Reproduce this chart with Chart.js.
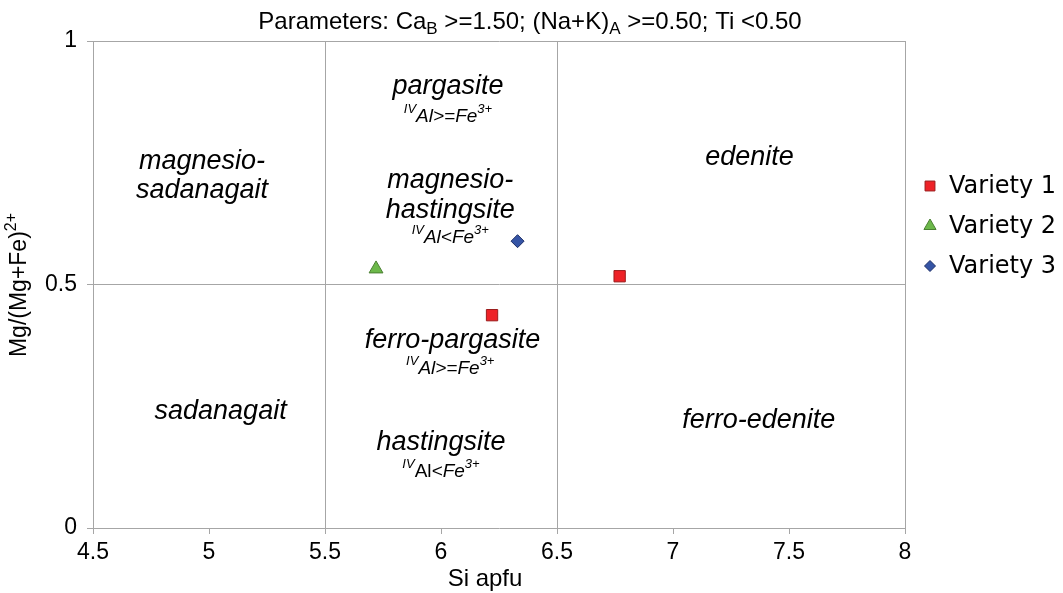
<!DOCTYPE html>
<html>
<head>
<meta charset="utf-8">
<script src="https://cdn.jsdelivr.net/npm/chart.js@4.4.1/dist/chart.umd.min.js"></script>
<style>
  html, body { margin: 0; padding: 0; background: #fff; }
  #wrap { width: 1063px; height: 593px; }
</style>
</head>
<body>
<div id="wrap"><canvas id="myChart" width="1063" height="593"></canvas></div>
<script>
// data
var seriesNames = ['Variety 1', 'Variety 2', 'Variety 3'];
var variety1X = [6.22, 6.77];
var variety1Y = [0.437, 0.517];
var variety2X = [5.72];
var variety2Y = [0.532];
var variety3X = [6.33];
var variety3Y = [0.589];
var xTicks = [4.5, 5, 5.5, 6, 6.5, 7, 7.5, 8];
var yTicks = [0, 0.5, 1];
var xDividers = [5.5, 6.5, 8];
var yDividers = [0.5, 1];

var gray = '#a6a6a6';
var fontName = '"Liberation Sans", Arial, sans-serif';

function pts(xs, ys) {
    return xs.map(function (x, i) { return { x: x, y: ys[i] }; });
}

// field names, placed in data units
var fields = [
    { x: 6.03, y: 0.906, lines: [[{ t: 'pargasite' }]] },
    { x: 6.03, y: 0.845, small: true, lines: [[{ t: 'IV', sup: true }, { t: 'Al>=Fe' }, { t: '3+', sup: true }]] },
    { x: 6.04, y: 0.713, lines: [[{ t: 'magnesio-' }]] },
    { x: 6.04, y: 0.653, lines: [[{ t: 'hastingsite' }]] },
    { x: 6.04, y: 0.596, small: true, lines: [[{ t: 'IV', sup: true }, { t: 'Al<Fe' }, { t: '3+', sup: true }]] },
    { x: 4.97, y: 0.752, lines: [[{ t: 'magnesio-' }]] },
    { x: 4.97, y: 0.694, lines: [[{ t: 'sadanagait' }]] },
    { x: 7.33, y: 0.760, lines: [[{ t: 'edenite' }]] },
    { x: 6.05, y: 0.386, lines: [[{ t: 'ferro-pargasite' }]] },
    { x: 6.04, y: 0.327, small: true, lines: [[{ t: 'IV', sup: true }, { t: 'Al>=Fe' }, { t: '3+', sup: true }]] },
    { x: 5.05, y: 0.240, lines: [[{ t: 'sadanagait' }]] },
    { x: 6.00, y: 0.175, lines: [[{ t: 'hastingsite' }]] },
    { x: 6.00, y: 0.115, small: true, lines: [[{ t: 'IV', sup: true }, { t: 'Al', up: true }, { t: '<Fe' }, { t: '3+', sup: true }]] },
    { x: 7.37, y: 0.220, lines: [[{ t: 'ferro-edenite' }]] }
];

function runFont(r, size, italic) {
    var s = (r.sup || r.sub) ? Math.round(size * 0.7) : size;
    var it = italic && !r.up ? 'italic ' : '';
    return it + s + 'px ' + fontName;
}

function runsWidth(ctx, runs, size, italic) {
    var w = 0;
    runs.forEach(function (r) {
        ctx.font = runFont(r, size, italic);
        w += ctx.measureText(r.t).width;
    });
    return w;
}

function drawRuns(ctx, runs, x, y, size, italic) {
    var w = runsWidth(ctx, runs, size, italic);
    var cx = x - w / 2;
    ctx.textAlign = 'left';
    ctx.textBaseline = 'middle';
    runs.forEach(function (r) {
        ctx.font = runFont(r, size, italic);
        var dy = r.sup ? -size * 0.38 : (r.sub ? size * 0.32 : 0);
        ctx.fillText(r.t, cx, y + dy);
        cx += ctx.measureText(r.t).width;
    });
}

function drawShape(ctx, style, x, y, r) {
    if (style === 'rect') {
        var s = r * Math.SQRT1_2;
        ctx.rect(x - s, y - s, 2 * s, 2 * s);
    } else if (style === 'triangle') {
        ctx.moveTo(x, y - r);
        ctx.lineTo(x + r * 0.866, y + r * 0.5);
        ctx.lineTo(x - r * 0.866, y + r * 0.5);
        ctx.closePath();
    } else {
        ctx.moveTo(x, y - r);
        ctx.lineTo(x + r, y);
        ctx.lineTo(x, y + r);
        ctx.lineTo(x - r, y);
        ctx.closePath();
    }
}

var extras = {
    id: 'extras',
    afterDatasetsDraw: function (chart) {
        var ctx = chart.ctx;
        var xs = chart.scales.x, ys = chart.scales.y;
        ctx.save();
        ctx.fillStyle = '#000';

        fields.forEach(function (f) {
            var px = xs.getPixelForValue(f.x), py = ys.getPixelForValue(f.y);
            drawRuns(ctx, f.lines[0], px, py, f.small ? 19 : 27, true);
        });

        // title
        drawRuns(ctx, [
            { t: 'Parameters: Ca' }, { t: 'B', sub: true },
            { t: ' >=1.50; (Na+K)' }, { t: 'A', sub: true },
            { t: ' >=0.50; Ti <0.50' }
        ], 530, 22, 24, false);

        // axis titles
        drawRuns(ctx, [{ t: 'Si apfu' }], 485, 579, 24, false);
        ctx.save();
        ctx.translate(20, 285);
        ctx.rotate(-Math.PI / 2);
        drawRuns(ctx, [{ t: 'Mg/(Mg+Fe)' }, { t: '2+', sup: true }], 0, 0, 23, false);
        ctx.restore();

        // legend
        chart.data.datasets.forEach(function (ds, i) {
            var ly = 186 + i * 40;
            ctx.fillStyle = ds.backgroundColor;
            ctx.strokeStyle = ds.borderColor;
            ctx.lineWidth = 1;
            ctx.beginPath();
            drawShape(ctx, ds.pointStyle, 930, ly, ds.legendRadius);
            ctx.fill();
            ctx.stroke();
            ctx.fillStyle = '#000';
            ctx.font = '24px "DejaVu Sans", Verdana, sans-serif';
            ctx.textAlign = 'left';
            ctx.textBaseline = 'middle';
            ctx.fillText(ds.label, 949, ly + 1);
        });
        ctx.restore();
    }
};

function tickText(v) { return String(v); }

var ctx = document.getElementById('myChart').getContext('2d');
var myChart = new Chart(ctx, {
    type: 'scatter',
    data: {
        datasets: [{
            label: seriesNames[0],
            data: pts(variety1X, variety1Y),
            pointStyle: 'rect',
            pointRadius: 8,
            legendRadius: 7,
            backgroundColor: '#ee2227',
            borderColor: '#9a1c1c',
            borderWidth: 1
        }, {
            label: seriesNames[1],
            data: pts(variety2X, variety2Y),
            pointStyle: 'triangle',
            pointRadius: 8,
            legendRadius: 7,
            backgroundColor: '#6cb84a',
            borderColor: '#4a7f32',
            borderWidth: 1
        }, {
            label: seriesNames[2],
            data: pts(variety3X, variety3Y),
            pointStyle: 'rectRot',
            pointRadius: 6.5,
            legendRadius: 5.5,
            backgroundColor: '#3554a5',
            borderColor: '#1d2e66',
            borderWidth: 1
        }]
    },
    options: {
        responsive: false,
        animation: false,
        layout: { padding: { left: 0, right: 158, top: 41, bottom: 0 } },
        plugins: {
            legend: { display: false },
            tooltip: { enabled: false }
        },
        scales: {
            x: {
                type: 'linear',
                min: xTicks[0],
                max: xTicks[xTicks.length - 1],
                afterBuildTicks: function (axis) {
                    axis.ticks = xTicks.map(function (v) { return { value: v }; });
                },
                afterFit: function (axis) { axis.height = 65; },
                ticks: {
                    color: '#000',
                    padding: 5,
                    font: { family: fontName, size: 23 },
                    callback: tickText
                },
                grid: {
                    color: function (c) {
                        return c.tick && xDividers.indexOf(c.tick.value) >= 0 ? gray : 'rgba(0,0,0,0)';
                    },
                    tickColor: gray,
                    tickLength: 6
                },
                border: { color: gray, width: 1 }
            },
            y: {
                type: 'linear',
                min: yTicks[0],
                max: yTicks[yTicks.length - 1],
                afterBuildTicks: function (axis) {
                    axis.ticks = yTicks.map(function (v) { return { value: v }; });
                },
                afterFit: function (axis) { axis.width = 93; },
                ticks: {
                    color: '#000',
                    padding: 10,
                    font: { family: fontName, size: 23 },
                    callback: tickText
                },
                grid: {
                    color: function (c) {
                        return c.tick && yDividers.indexOf(c.tick.value) >= 0 ? gray : 'rgba(0,0,0,0)';
                    },
                    tickColor: gray,
                    tickLength: 6
                },
                border: { color: gray, width: 1 }
            }
        }
    },
    plugins: [extras]
});
</script>
</body>
</html>
